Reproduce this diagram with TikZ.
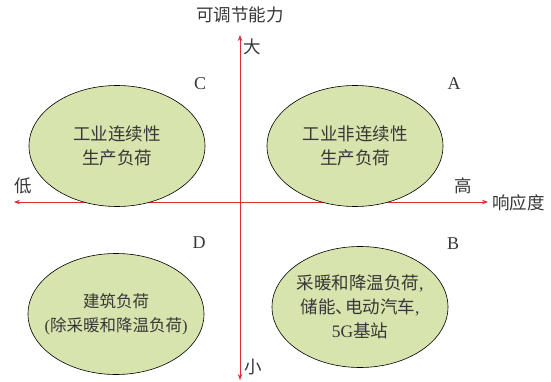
\documentclass[tikz,border=0pt]{standalone}
\usepackage{fontspec}
\setmainfont{Liberation Serif}
\newfontfamily\cjk{Noto Sans CJK SC}
\usetikzlibrary{arrows.meta,shapes.geometric}
\definecolor{axisred}{RGB}{222,45,50}
\definecolor{blobfill}{RGB}{215,228,174}
\definecolor{txt}{RGB}{55,55,55}
\newcommand{\lat}[1]{{\rmfamily #1}}
\begin{document}
\begin{tikzpicture}[x=1pt,y=-1pt,
  axis/.style={draw=axisred,line width=0.9pt,-{Stealth[length=6pt,width=4.5pt]}},
  blob/.style={ellipse,draw=black,line width=0.6pt,fill=blobfill,minimum width=176pt,minimum height=121pt,inner sep=0pt},
  blobtext/.style={inner sep=0pt,align=center,font=\fontsize{17.5}{24}\selectfont\cjk,text=txt},
  lab/.style={font=\fontsize{17.5}{20}\selectfont\cjk,text=txt,inner sep=0pt},
  let/.style={font=\fontsize{18}{20}\selectfont,text=txt,inner sep=0pt}]
\useasboundingbox (0,0) rectangle (551,382);
\coordinate (vtop) at (240,35);
\coordinate (vbot) at (240,380);
\coordinate (hleft) at (14,202);
\coordinate (hright) at (488,202);
\coordinate (ctr) at (240,202);
\draw[axis] (ctr) -- (vtop);
\draw[axis] (ctr) -- (vbot);
\draw[axis] (ctr) -- (hleft);
\draw[axis] (ctr) -- (hright);
\node[lab] (ylab) at (240,15) {可调节能力};
\node[lab] (big) at (252,47) {大};
\node[lab] (small) at (253,367) {小};
\node[lab] (low) at (23,186) {低};
\node[lab] (high) at (463,186) {高};
\node[lab,anchor=west] (xlab) at (492,203) {响应度};
\node[let] (lC) at (200,84) {C};
\node[let] (lA) at (454,84) {A};
\node[let] (lD) at (199,243) {D};
\node[let] (lB) at (453,244) {B};
\node[blob] (eC) at (117,146) {};
\node[blob] (eA) at (355,146) {};
\node[blob] (eD) at (116,314) {};
\node[blob] (eB) at (360,307) {};
\node[blobtext] (tC) at (eC.center) {工业连续性\\生产负荷};
\node[blobtext] (tA) at (eA.center) {工业非连续性\\生产负荷};
\node[blobtext,font=\fontsize{16.5}{24}\selectfont\cjk] (tD) at (eD.center) {建筑负荷\\\lat{(}除采暖和降温负荷\lat{)}};
\node[blobtext] (tB) at (eB.center) {采暖和降温负荷\lat{,}\\储能、\hspace{-0.45em}电动汽车\lat{,}\\\lat{5G}基站};
\end{tikzpicture}
\end{document}
